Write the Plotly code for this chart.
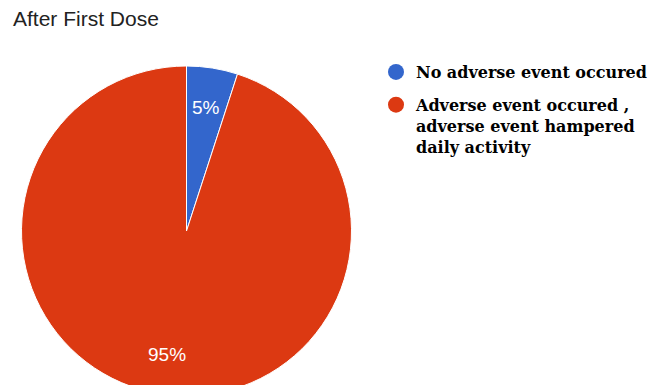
import math
import plotly.graph_objects as go

# ---- data ----
labels = ["No adverse event occured",
          "Adverse event occured ,<br>adverse event hampered<br>daily activity"]
values = [5, 95]
colors = ["#3366cc", "#dc3912"]
title_text = "After First Dose"

# ---- layout geometry (pixels) ----
W, H = 651, 400
cx_px, cy_px, r_px = 186.5, 231.0, 165.0

dom_x = [(cx_px - r_px) / W, (cx_px + r_px) / W]
dom_y = [(H - cy_px - r_px) / H, (H - cy_px + r_px) / H]

fig = go.Figure()
fig.add_trace(go.Pie(
    labels=labels, values=values, sort=False, direction="clockwise", rotation=0,
    marker=dict(colors=colors, line=dict(color="white", width=1)),
    textinfo="none", hoverinfo="label+percent", showlegend=False,
    domain=dict(x=dom_x, y=dom_y),
))

# legend entries with circular markers
for i, (lab, col) in enumerate(zip(labels, colors)):
    fig.add_trace(go.Scatter(
        x=[None], y=[None], mode="markers", name="<b>" + lab + "</b>",
        marker=dict(color=col, size=16, symbol="circle"),
        legendgroup="g%d" % i, showlegend=True, hoverinfo="skip",
    ))

# percentage labels placed from the data (mid-angle of each slice)
total = sum(values)
cum = 0.0
cxp = (dom_x[0] + dom_x[1]) / 2
cyp = (dom_y[0] + dom_y[1]) / 2
for v in values:
    mid = (cum + v / 2) / total * 2 * math.pi
    cum += v
    rr = 0.76 * r_px
    fig.add_annotation(
        x=cxp + rr * math.sin(mid) / W, y=cyp + rr * math.cos(mid) / H,
        xref="paper", yref="paper", showarrow=False,
        xanchor="center", yanchor="middle",
        text="%d%%" % round(v / total * 100),
        font=dict(family="Liberation Sans, Arial", size=19, color="white"),
    )

fig.update_layout(
    width=W, height=H, margin=dict(l=0, r=0, t=0, b=0, autoexpand=False),
    paper_bgcolor="white", plot_bgcolor="white",
    xaxis=dict(visible=False), yaxis=dict(visible=False),
    title=dict(text=title_text, x=13 / W, xanchor="left", y=1 - 11 / H, yanchor="top",
               yref="container",
               font=dict(family="Liberation Sans, Arial", size=21, color="#222222")),
    legend=dict(x=376 / W, xanchor="left", y=1 - 55 / H, yanchor="top",
                font=dict(family="DejaVu Serif", size=16, color="black"),
                valign="top", traceorder="grouped", tracegroupgap=9,
                bgcolor="rgba(0,0,0,0)"),
    showlegend=True,
)

fig.write_html("out.html", post_script="document.body.style.overflow='hidden';document.body.style.margin='0';")
